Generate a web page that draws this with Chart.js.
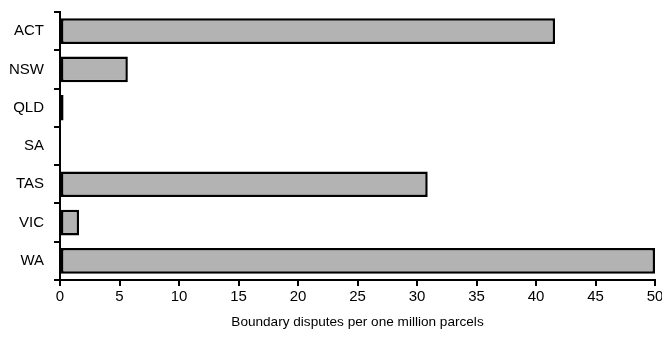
<!DOCTYPE html>
<html>
<head>
    <title>Boundary disputes</title>
    <script src="https://cdn.jsdelivr.net/npm/chart.js@4.4.0/dist/chart.umd.min.js"></script>
    <style>
        body { margin: 0; background: #fff; }
        #wrap { width: 662px; height: 354px; }
    </style>
</head>
<body>
    <div id="wrap"><canvas id="grafico"></canvas></div>
    <script>
        // datos
        const estados = ['ACT', 'NSW', 'QLD', 'SA', 'TAS', 'VIC', 'WA'];
        const disputas = [41.6, 5.7, 0.3, 0, 30.9, 1.6, 50];
        const tituloX = 'Boundary disputes per one million parcels';

        const fuente = { family: 'Liberation Sans, Arial, sans-serif', size: 15 };

        new Chart(document.getElementById('grafico'), {
            type: 'bar',
            data: {
                labels: estados,
                datasets: [{
                    data: disputas,
                    backgroundColor: '#b3b3b3',
                    borderColor: '#000',
                    borderWidth: 2.5,
                    borderSkipped: false,
                    barPercentage: 0.67,
                    categoryPercentage: 1
                }]
            },
            options: {
                indexAxis: 'y',
                responsive: true,
                maintainAspectRatio: false,
                animation: false,
                layout: { padding: { top: 12, right: 0, left: 0, bottom: 0 } },
                plugins: { legend: { display: false }, tooltip: { enabled: false } },
                scales: {
                    x: {
                        min: 0,
                        max: 50,
                        ticks: { stepSize: 5, color: '#000', font: fuente, padding: 2, maxRotation: 0 },
                        grid: { drawOnChartArea: false, tickLength: 6, color: '#000', lineWidth: 2 },
                        border: { color: '#000', width: 2 },
                        title: { display: true, text: tituloX, color: '#000', font: { family: fuente.family, size: 13.6 }, padding: { top: 4, bottom: 24 } },
                        afterFit: s => { s.height = 74; s.paddingRight = 7; }
                    },
                    y: {
                        ticks: { color: '#000', font: fuente, padding: 10 },
                        grid: { offset: true, drawOnChartArea: false, tickLength: 6, color: '#000', lineWidth: 2 },
                        border: { color: '#000', width: 2 },
                        afterFit: s => { s.width = 60; s.paddingTop = 0; s.paddingBottom = 0; }
                    }
                }
            }
        });
    </script>
</body>
</html>
